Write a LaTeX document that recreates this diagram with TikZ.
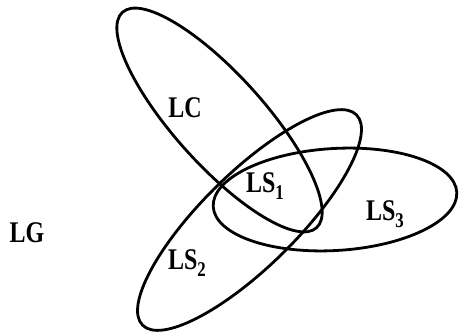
\documentclass[tikz,border=0pt]{standalone}
\usepackage{fontspec}
\setmainfont{Liberation Serif}
\newcommand{\subtxt}[1]{\raisebox{-7pt}{\fontsize{21}{21}\selectfont #1}}
\begin{document}
\begin{tikzpicture}[x=1pt,y=-1pt,
  ell/.style={draw=black,line width=2.8pt},
  lab/.style={inner sep=0pt,font=\fontsize{30}{30}\selectfont\bfseries,xscale=0.8,transform shape}]
\useasboundingbox (0,0) rectangle (460,336);
\draw[ell,rotate around={-48:(219.5,120)}] (219.5,120) ellipse [x radius=145pt,y radius=45pt];
\draw[ell,rotate around={44.5:(249.5,220)}] (249.5,220) ellipse [x radius=150pt,y radius=47pt];
\draw[ell,rotate around={3.4:(335,199.5)}] (335,199.5) ellipse [x radius=122pt,y radius=51pt];
\node[lab] (lc) at (185,108) {LC};
\node[lab] (ls1) at (265,186) {LS\subtxt{1}};
\node[lab] (ls2) at (187,263) {LS\subtxt{2}};
\node[lab] (ls3) at (385,214) {LS\subtxt{3}};
\node[lab] (lg) at (27,233) {LG};
\end{tikzpicture}
\end{document}
